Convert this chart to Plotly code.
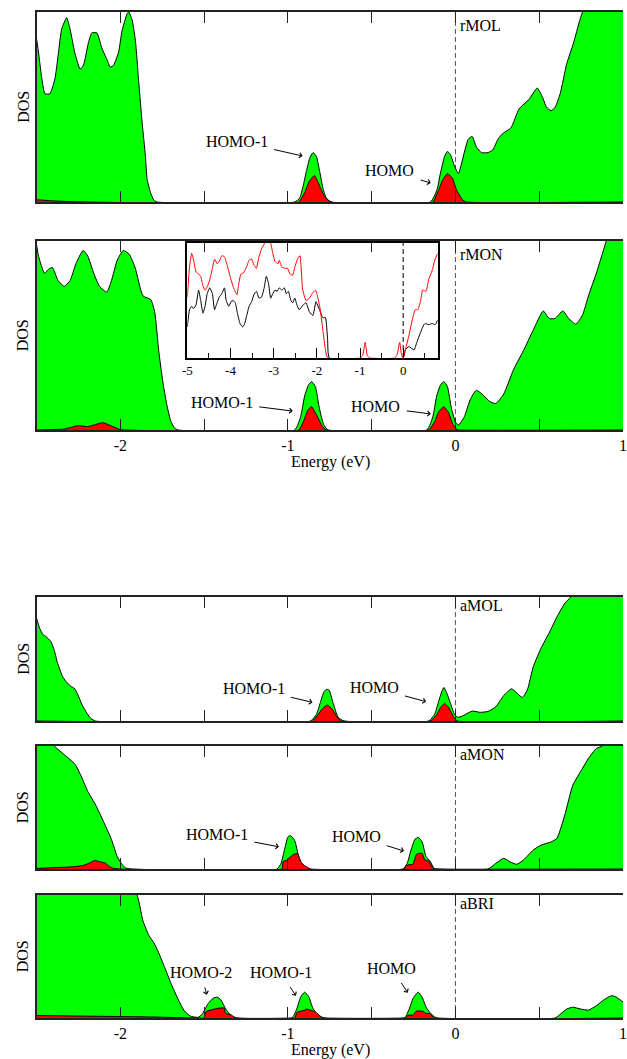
import plotly.graph_objects as go

FONT = "Liberation Serif, Times New Roman, serif"
GREEN = "#00ff00"
RED = "#ff0000"

# ---------------- main-panel energy ticks ----------------
tick_vals = [-2.5, -2.0, -1.5, -1.0, -0.5, 0.0, 0.5, 1.0]
tick_text = ["", "-2", "", "-1", "", "0", "", "1"]

# ---------------- rMOL ----------------
rmol_tot_e = [-2.50, -2.49, -2.47, -2.45, -2.42, -2.39, -2.37, -2.35, -2.32, -2.30, -2.27, -2.24,
              -2.22, -2.19, -2.17, -2.14, -2.11, -2.08, -2.06, -2.04, -2.01, -1.99, -1.96, -1.95,
              -1.93, -1.91, -1.89, -1.87, -1.85, -1.84, -1.82, -1.80, -1.78,
              -0.96, -0.93, -0.91, -0.89, -0.87, -0.85, -0.83, -0.81, -0.79, -0.77, -0.74,
              -0.15, -0.11, -0.09, -0.065, -0.048, -0.03, -0.006, 0.018, 0.037, 0.076, 0.10, 0.125,
              0.155, 0.194, 0.224, 0.253, 0.282, 0.331, 0.38, 0.439, 0.488, 0.518, 0.543, 0.571,
              0.596, 0.625, 0.665, 0.704, 0.743, 0.77, 0.80, 0.85, 0.90, 1.0]
rmol_tot = [0.86, 0.80, 0.66, 0.57, 0.57, 0.65, 0.78, 0.91, 0.97, 0.91, 0.78, 0.70,
            0.72, 0.84, 0.89, 0.89, 0.81, 0.75, 0.71, 0.72, 0.79, 0.90, 0.99, 1.00,
            0.96, 0.85, 0.63, 0.42, 0.24, 0.12, 0.05, 0.01, 0.0,
            0.0, 0.02, 0.08, 0.16, 0.23, 0.26, 0.24, 0.16, 0.07, 0.02, 0.0,
            0.0, 0.065, 0.15, 0.24, 0.266, 0.25, 0.19, 0.15, 0.205, 0.33, 0.345, 0.29,
            0.26, 0.26, 0.275, 0.33, 0.36, 0.39, 0.49, 0.54, 0.60, 0.555, 0.50, 0.48,
            0.50, 0.57, 0.73, 0.835, 0.96, 1.03, 1.12, 1.2, 1.25, 1.3]
rmol_pdos_e = [-2.50, -2.40, -2.30, -2.20, -0.935, -0.90, -0.872, -0.841, -0.818, -0.782, -0.747,
               -0.135, -0.10, -0.076, -0.048, -0.018, 0.006, 0.041, 0.065, 1.0]
rmol_pdos = [0.012, 0.006, 0.002, 0.0, 0.0, 0.05, 0.11, 0.14, 0.10, 0.03, 0.0,
             0.0, 0.065, 0.117, 0.149, 0.126, 0.065, 0.012, 0.0, 0.0]

# ---------------- rMON ----------------
rmon_tot_e = [-2.50, -2.488, -2.453, -2.429, -2.406, -2.371, -2.335, -2.30, -2.265, -2.222, -2.194,
              -2.159, -2.124, -2.081, -2.053, -2.018, -1.982, -1.947, -1.912, -1.865, -1.818,
              -1.794, -1.771, -1.747, -1.724, -1.70, -1.676, -1.653,
              -0.96, -0.924, -0.90, -0.876, -0.858, -0.836, -0.813, -0.787, -0.76,
              -0.171, -0.135, -0.112, -0.088, -0.069, -0.048, -0.025, -0.001, 0.018, 0.053, 0.088,
              0.124, 0.159, 0.206, 0.241, 0.288, 0.347, 0.406, 0.465, 0.524, 0.559, 0.594, 0.641,
              0.676, 0.719, 0.759, 0.794, 0.841, 0.876, 0.90, 0.93, 1.0]
rmon_tot = [0.98, 0.92, 0.83, 0.85, 0.86, 0.79, 0.76, 0.79, 0.88, 0.95, 0.92,
            0.83, 0.76, 0.73, 0.79, 0.90, 0.95, 0.93, 0.86, 0.71, 0.69,
            0.62, 0.42, 0.26, 0.14, 0.05, 0.01, 0.0,
            0.0, 0.07, 0.18, 0.24, 0.256, 0.23, 0.12, 0.03, 0.0,
            0.0, 0.07, 0.18, 0.24, 0.256, 0.23, 0.12, 0.044, 0.026, 0.07, 0.16,
            0.21, 0.19, 0.15, 0.14, 0.19, 0.32, 0.42, 0.53, 0.63, 0.59, 0.59, 0.63,
            0.59, 0.56, 0.61, 0.71, 0.83, 0.93, 1.0, 1.08, 1.2]
rmon_pdos_e = [-2.50, -2.335, -2.253, -2.194, -2.105, -2.065, -2.006, -1.98,
               -0.935, -0.905, -0.881, -0.858, -0.829, -0.794, -0.77,
               -0.159, -0.124, -0.10, -0.069, -0.041, -0.018, 0.006, 0.02, 1.0]
rmon_pdos = [0.0, 0.005, 0.023, 0.018, 0.039, 0.026, 0.004, 0.0,
             0.0, 0.05, 0.106, 0.123, 0.08, 0.018, 0.0,
             0.0, 0.044, 0.097, 0.123, 0.092, 0.035, 0.004, 0.0, 0.0]

# ---------------- aMOL ----------------
amol_tot_e = [-2.50, -2.482, -2.463, -2.443, -2.414, -2.394, -2.375, -2.345, -2.325, -2.296,
              -2.272, -2.253, -2.228, -2.198, -2.175, -2.149,
              -0.865, -0.829, -0.806, -0.787, -0.771, -0.754, -0.731, -0.70, -0.665,
              -0.159, -0.124, -0.10, -0.081, -0.069, -0.053, -0.029, -0.006, 0.013, 0.041, 0.10,
              0.147, 0.194, 0.241, 0.288, 0.335, 0.371, 0.399, 0.429, 0.465, 0.512, 0.559, 0.606,
              0.653, 0.688, 0.72, 0.80, 1.0]
amol_tot = [0.83, 0.75, 0.70, 0.68, 0.64, 0.57, 0.47, 0.36, 0.32, 0.28,
            0.26, 0.21, 0.13, 0.06, 0.02, 0.0,
            0.0, 0.055, 0.15, 0.23, 0.255, 0.25, 0.15, 0.03, 0.0,
            0.0, 0.055, 0.16, 0.24, 0.27, 0.23, 0.14, 0.055, 0.03, 0.04, 0.08,
            0.07, 0.077, 0.115, 0.205, 0.26, 0.22, 0.19, 0.25, 0.44, 0.59, 0.71, 0.84,
            0.95, 1.0, 1.08, 1.2, 1.3]
amol_pdos_e = [-2.50, -0.853, -0.818, -0.794, -0.764, -0.735, -0.70, -0.68,
               -0.147, -0.112, -0.088, -0.065, -0.041, -0.011, 0.01, 1.0]
amol_pdos = [0.0, 0.0, 0.055, 0.10, 0.13, 0.096, 0.02, 0.0,
             0.0, 0.05, 0.11, 0.142, 0.11, 0.033, 0.0, 0.0]

# ---------------- aMON ----------------
amon_tot_e = [-2.50, -2.394, -2.335, -2.269, -2.229, -2.194, -2.147, -2.10, -2.053, -2.018,
              -1.994, -1.971, -1.935,
              -1.065, -1.041, -1.018, -0.999, -0.982, -0.959, -0.935, -0.912, -0.876,
              -0.312, -0.288, -0.265, -0.241, -0.222, -0.199, -0.175, -0.152, -0.128, -0.11,
              0.194, 0.241, 0.288, 0.324, 0.366, 0.406, 0.465, 0.512, 0.571, 0.606, 0.653,
              0.70, 0.759, 0.794, 0.841, 0.876, 0.92, 1.0]
amon_tot = [1.2, 1.0, 0.93, 0.85, 0.74, 0.63, 0.52, 0.385, 0.24, 0.10,
            0.046, 0.01, 0.0,
            0.0, 0.046, 0.17, 0.263, 0.27, 0.23, 0.10, 0.03, 0.0,
            0.0, 0.046, 0.155, 0.244, 0.257, 0.22, 0.10, 0.065, 0.005, 0.0,
            0.0, 0.046, 0.087, 0.06, 0.038, 0.073, 0.155, 0.195, 0.22, 0.25, 0.44,
            0.68, 0.82, 0.90, 0.98, 1.0, 1.08, 1.2]
amon_pdos_e = [-2.50, -2.335, -2.265, -2.218, -2.182, -2.152, -2.124, -2.088, -2.065, -2.04, -2.0,
               -1.035, -1.029, -1.006, -0.971, -0.942, -0.924, -0.90, -0.865,
               -0.307, -0.293, -0.253, -0.236, -0.222, -0.199, -0.182, -0.159, -0.135, -0.12, 1.0]
amon_pdos = [0.005, 0.014, 0.02, 0.03, 0.05, 0.07, 0.06, 0.046, 0.02, 0.005, 0.0,
             0.0, 0.06, 0.073, 0.114, 0.127, 0.06, 0.027, 0.0,
             0.0, 0.03, 0.04, 0.114, 0.127, 0.127, 0.073, 0.065, 0.005, 0.0, 0.0]

# ---------------- aBRI ----------------
abri_tot_e = [-2.50, -2.00, -1.90, -1.865, -1.829, -1.799, -1.771, -1.735, -1.70, -1.653, -1.618,
              -1.582, -1.547, -1.535, -1.512, -1.476, -1.446, -1.422, -1.399, -1.371, -1.335, -1.30,
              -0.99, -0.971, -0.947, -0.924, -0.90, -0.876, -0.853, -0.829, -0.794, -0.77,
              -0.32, -0.30, -0.276, -0.253, -0.222, -0.199, -0.175, -0.152, -0.124, -0.10,
              0.594, 0.629, 0.665, 0.70, 0.747, 0.794, 0.841, 0.888, 0.929, 0.953, 1.0]
abri_tot = [1.2, 1.2, 1.0, 0.79, 0.67, 0.61, 0.53, 0.41, 0.29, 0.146, 0.058,
            0.015, 0.006, 0.006, 0.03, 0.117, 0.16, 0.17, 0.146, 0.073, 0.015, 0.0,
            0.0, 0.006, 0.073, 0.17, 0.21, 0.175, 0.088, 0.035, 0.006, 0.0,
            0.0, 0.006, 0.073, 0.16, 0.21, 0.17, 0.088, 0.044, 0.009, 0.0,
            0.0, 0.035, 0.073, 0.088, 0.073, 0.064, 0.10, 0.15, 0.18, 0.175, 0.13]
abri_pdos_e = [-2.50, -2.20, -2.00, -1.80, -1.65, -1.55, -1.50, -1.488, -1.453, -1.418, -1.382,
               -1.371, -1.335, -1.312,
               -0.959, -0.947, -0.919, -0.90, -0.888, -0.865, -0.841, -0.818, -0.799,
               -0.293, -0.284, -0.253, -0.236, -0.222, -0.194, -0.175, -0.152, -0.128, 1.0]
abri_pdos = [0.02, 0.015, 0.012, 0.008, 0.003, 0.0, 0.0, 0.053, 0.067, 0.079, 0.082,
             0.038, 0.023, 0.0,
             0.0, 0.044, 0.058, 0.064, 0.073, 0.064, 0.053, 0.03, 0.0,
             0.0, 0.023, 0.023, 0.053, 0.058, 0.053, 0.038, 0.035, 0.0, 0.0]

# ---------------- inset (rMON, wide window) ----------------
inset_ticks = [-5, -4, -3, -2, -1, 0]
inset_tick_text = ["-5", "-4", "-3", "-2", "-1", "0"]
inset_red_e = [-5.00, -4.95, -4.90, -4.86, -4.80, -4.74, -4.69, -4.64, -4.59, -4.54, -4.48, -4.42,
               -4.37, -4.31, -4.26, -4.20, -4.14, -4.08, -4.01, -3.93, -3.85, -3.82, -3.76, -3.70,
               -3.63, -3.57, -3.51, -3.46, -3.40, -3.34, -3.28, -3.22, -3.17, -3.12, -3.07, -3.02,
               -2.97, -2.90, -2.87, -2.81, -2.74, -2.68, -2.62, -2.56, -2.51, -2.45, -2.39, -2.33,
               -2.25, -2.17, -2.11, -2.03, -1.98, -1.92, -1.86, -1.80, -1.75,
               -1.00, -0.94, -0.88, -0.83, -0.77, -0.19, -0.14, -0.08, -0.04, 0.0,
               0.05, 0.13, 0.21, 0.28, 0.34, 0.40, 0.45, 0.53, 0.59, 0.67, 0.74, 0.80]
inset_red = [0.53, 0.79, 0.91, 0.86, 0.75, 0.73, 0.71, 0.63, 0.59, 0.62, 0.68, 0.78,
             0.86, 0.82, 0.84, 0.89, 0.88, 0.81, 0.71, 0.61, 0.55, 0.62, 0.73, 0.74,
             0.79, 0.85, 0.86, 0.81, 0.78, 0.88, 0.95, 0.99, 1.03, 1.03, 1.00, 0.91,
             0.84, 0.82, 0.85, 0.79, 0.78, 0.78, 0.73, 0.72, 0.79, 0.86, 0.89, 0.60,
             0.50, 0.52, 0.56, 0.59, 0.53, 0.42, 0.24, 0.07, 0.0,
             0.0, 0.02, 0.135, 0.02, 0.0, 0.0, 0.03, 0.135, 0.03, 0.0,
             0.07, 0.19, 0.33, 0.42, 0.42, 0.49, 0.59, 0.58, 0.68, 0.76, 0.86, 0.91]
inset_black_e = [-5.00, -4.95, -4.90, -4.86, -4.80, -4.74, -4.69, -4.64, -4.59, -4.54, -4.48,
                 -4.42, -4.37, -4.31, -4.26, -4.20, -4.14, -4.10, -4.04, -3.99, -3.94, -3.89,
                 -3.84, -3.78, -3.72, -3.68, -3.63, -3.57, -3.51, -3.46, -3.40, -3.34, -3.28,
                 -3.22, -3.17, -3.12, -3.07, -3.02, -2.97, -2.92, -2.87, -2.81, -2.75, -2.71,
                 -2.66, -2.60, -2.56, -2.51, -2.46, -2.41, -2.32, -2.25, -2.17, -2.09, -2.02,
                 -1.94, -1.86, -1.80, -1.75, -1.71, 0.0, 0.05, 0.13, 0.25, 0.32, 0.40, 0.48,
                 0.51, 0.59, 0.67, 0.74, 0.80]
inset_black = [0.27, 0.42, 0.45, 0.43, 0.46, 0.59, 0.50, 0.39, 0.45, 0.56, 0.61,
               0.56, 0.42, 0.48, 0.53, 0.56, 0.61, 0.50, 0.45, 0.49, 0.50, 0.48,
               0.39, 0.30, 0.27, 0.29, 0.36, 0.45, 0.49, 0.55, 0.58, 0.52, 0.53,
               0.61, 0.71, 0.65, 0.52, 0.56, 0.59, 0.58, 0.61, 0.59, 0.61, 0.56,
               0.58, 0.50, 0.48, 0.52, 0.46, 0.42, 0.46, 0.48, 0.40, 0.37, 0.49,
               0.42, 0.35, 0.35, 0.16, 0.0, 0.0, 0.07, 0.10, 0.07, 0.14, 0.22, 0.29,
               0.30, 0.29, 0.30, 0.29, 0.33]

W, H = 627, 1059


def py(px):
    """Convert a pixel row (from top) to paper coordinates."""
    return 1 - px / H


X_LEFT = 32 / W

# (label, total E, total DOS, projected E, projected DOS, top px, bottom px, show tick labels)
panels = [
    ("rMOL", rmol_tot_e, rmol_tot, rmol_pdos_e, rmol_pdos, 12, 202, False),
    ("rMON", rmon_tot_e, rmon_tot, rmon_pdos_e, rmon_pdos, 241, 430, True),
    ("aMOL", amol_tot_e, amol_tot, amol_pdos_e, amol_pdos, 597, 721, False),
    ("aMON", amon_tot_e, amon_tot, amon_pdos_e, amon_pdos, 746, 869, False),
    ("aBRI", abri_tot_e, abri_tot, abri_pdos_e, abri_pdos, 895, 1018, True),
]

fig = go.Figure()
layout = dict(
    width=W, height=H,
    margin=dict(l=0, r=0, t=0, b=0),
    paper_bgcolor="white", plot_bgcolor="rgba(0,0,0,0)",
    showlegend=False,
    font=dict(family=FONT, size=16, color="black"),
)
annotations = []
shapes = []

for i, (label, te, tv, pe, pv, top, bot, show_lbl) in enumerate(panels, start=1):
    xa = "x" if i == 1 else f"x{i}"
    ya = "y" if i == 1 else f"y{i}"
    fig.add_trace(go.Scatter(
        x=te, y=tv, xaxis=xa, yaxis=ya, mode="lines",
        line=dict(color="black", width=1, shape="spline", smoothing=0.5),
        fill="tozeroy", fillcolor=GREEN, hoverinfo="skip"))
    fig.add_trace(go.Scatter(
        x=pe, y=pv, xaxis=xa, yaxis=ya, mode="lines",
        line=dict(color="black", width=1, shape="spline", smoothing=0.3),
        fill="tozeroy", fillcolor=RED, hoverinfo="skip"))
    key = "" if i == 1 else str(i)
    layout[f"xaxis{key}"] = dict(
        domain=[X_LEFT, 1.0], range=[-2.5, 1.0], anchor=ya,
        showline=True, linecolor="#222", linewidth=1.5, mirror="allticks",
        ticks="inside", ticklen=11, tickwidth=1, tickcolor="#222",
        tickmode="array", tickvals=tick_vals, ticktext=tick_text,
        showticklabels=show_lbl, tickfont=dict(family=FONT, size=16),
        ticklabeloverflow="allow",
        showgrid=False, zeroline=False, fixedrange=True)
    layout[f"yaxis{key}"] = dict(
        domain=[py(bot), py(top)], range=[0, 1], anchor=xa,
        showline=True, linecolor="#222", linewidth=1.5, mirror=False,
        ticks="", showticklabels=False, showgrid=False, zeroline=False, fixedrange=True)
    # Fermi level
    shapes.append(dict(type="line", xref=xa, yref=f"{ya} domain", x0=0, x1=0, y0=0, y1=1,
                       line=dict(color="#555", width=1, dash="5px,3px"), layer="below"))
    # system label
    annotations.append(dict(xref=xa, yref=f"{ya} domain", x=0.015, y=0.93, text=label,
                            showarrow=False, xanchor="left", yanchor="middle",
                            font=dict(family=FONT, size=16)))
    # DOS axis title
    annotations.append(dict(xref="paper", yref="paper", x=18 / W, y=py((top + bot) / 2),
                            text="DOS", textangle=-90, showarrow=False,
                            xanchor="center", yanchor="middle",
                            font=dict(family=FONT, size=16)))
    if show_lbl:
        annotations.append(dict(xref="paper", yref="paper", x=330 / W, y=py(bot + 32),
                                text="Energy (eV)", showarrow=False,
                                xanchor="center", yanchor="middle",
                                font=dict(family=FONT, size=16)))


def state_label(panel, text, ex, ey, dx, dy):
    """Label placed (dx, dy) px away from the peak point (ex, ey), with an arrow to it."""
    xa = "x" if panel == 1 else f"x{panel}"
    ya = "y" if panel == 1 else f"y{panel}"
    annotations.append(dict(xref=xa, yref=ya, x=ex, y=ey, text=text, showarrow=True,
                            axref="pixel", ayref="pixel", ax=dx, ay=dy,
                            arrowhead=4, arrowsize=1, arrowwidth=1, arrowcolor="black",
                            standoff=0, startstandoff=5,
                            font=dict(family=FONT, size=16)))


# rMOL
state_label(1, "HOMO-1", -0.912, 0.242, -66, -15)
state_label(1, "HOMO", -0.147, 0.10, -41, -12)
# rMON
state_label(2, "HOMO-1", -0.971, 0.10, -71, -9)
state_label(2, "HOMO", -0.147, 0.085, -55, -7)
# aMOL
state_label(3, "HOMO-1", -0.853, 0.15, -59, -14)
state_label(3, "HOMO", -0.175, 0.156, -52, -14)
# aMON
state_label(4, "HOMO-1", -1.053, 0.18, -62, -12)
state_label(4, "HOMO", -0.307, 0.146, -48, -15)
# aBRI
state_label(5, "HOMO-2", -1.484, 0.19, -6, -22)
state_label(5, "HOMO-1", -0.952, 0.18, -15, -23)
state_label(5, "HOMO", -0.284, 0.205, -16, -24)

# ---------------- inset ----------------
fig.add_trace(go.Scatter(x=inset_black_e, y=inset_black, xaxis="x6", yaxis="y6", mode="lines",
                         line=dict(color="black", width=1, shape="spline", smoothing=0.4),
                         hoverinfo="skip"))
fig.add_trace(go.Scatter(x=inset_red_e, y=inset_red, xaxis="x6", yaxis="y6", mode="lines",
                         line=dict(color=RED, width=1, shape="spline", smoothing=0.4),
                         hoverinfo="skip"))
layout["xaxis6"] = dict(
    domain=[185 / W, 439 / W], range=[-5, 0.8], anchor="y6",
    showline=True, linecolor="black", linewidth=1.5, mirror=True,
    ticks="inside", ticklen=10, tickwidth=1, tickcolor="black",
    tickmode="array", tickvals=inset_ticks, ticktext=inset_tick_text,
    tickfont=dict(family=FONT, size=13),
    minor=dict(dtick=0.5, tick0=0, ticks="inside", ticklen=5, tickcolor="black", tickwidth=1),
    showgrid=False, zeroline=False, fixedrange=True)
layout["yaxis6"] = dict(
    domain=[py(358), py(243)], range=[0, 1], anchor="x6",
    showline=True, linecolor="black", linewidth=1.5, mirror=True,
    ticks="", showticklabels=False, showgrid=False, zeroline=False, fixedrange=True)
shapes.append(dict(type="line", xref="x6", yref="y6 domain", x0=0, x1=0, y0=0, y1=1,
                   line=dict(color="black", width=1, dash="5px,3px"), layer="below"))

layout["annotations"] = annotations
layout["shapes"] = shapes
fig.update_layout(**layout)
fig.write_html("out.html")
